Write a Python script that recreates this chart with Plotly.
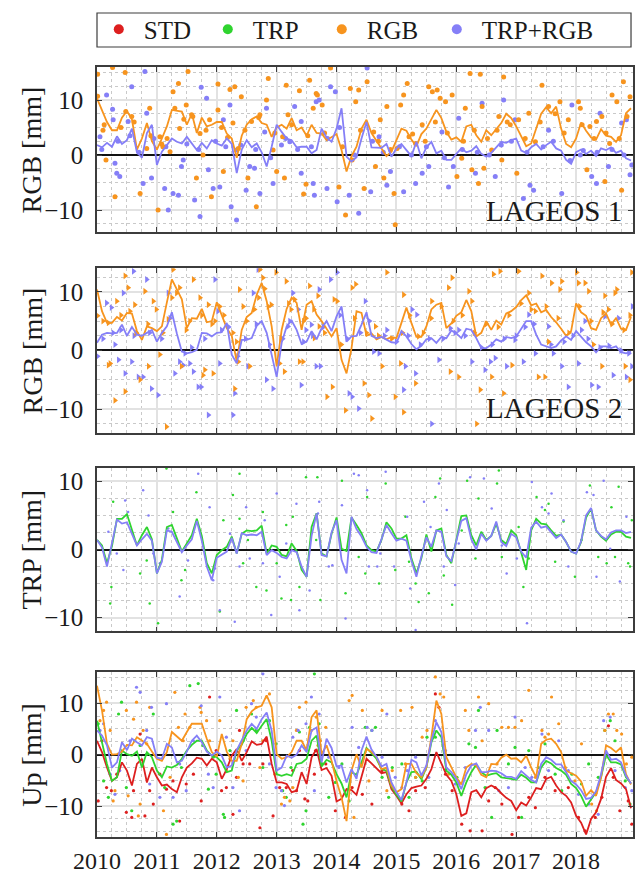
import numpy as np
import plotly.graph_objects as go

# ---------------- data ----------------
YEARS = [2010, 2011, 2012, 2013, 2014, 2015, 2016, 2017, 2018]
YEAR_LABELS = [str(y) for y in YEARS]
Y_TICKS = [-10, 0, 10]
Y_TICKTEXT = ["\u221210", "0", "10"]
SERIES = ["STD", "TRP", "RGB", "TRP+RGB"]

# monthly time base (decimal year) for the smoothed curves
MONTHS = 2010 + np.arange(108) / 12.0

# Panel 1 (LAGEOS 1, RGB) smoothed curves
p1_rgb_line = [10.3, 8, 6, 4.5, 4.5, 6.8, 8, 6.5, 1, 3, 5.8, 2.5,
               1, 3, 5.2, 8.2, 8, 7.9, 5.5, 7.5, 4, 6.8, 5.2, 5.5,
               6, 6, 3.9, 3, -0.5, 3.5, 5.5, 6.5, 7, 5.8, 5.5, 3.3,
               5, 5.5, 4.8, 6.7, 4.5, 5, 3.5, 5.5, 4, 3.9, 2.7, 3.2,
               3.8, 0.9, -3, -0.2, 1.5, 4.8, 6.4, 4, 2.7, 1.2, -0.2, 0.6,
               2.7, 4.8, 4.4, 2.8, 1.6, 3.8, 4.8, 6.4, 8.2, 6.7, 4.2, 2.8,
               3.2, 2.4, 5.2, 5.5, 3.6, 2.4, 4.5, 3.6, 4.8, 5.8, 7.5, 6.7,
               5.2, 3.5, 1.6, 2.1, 4.8, 7.5, 8.7, 7.6, 8.8, 4.8, 2, 1.4,
               3, 5.9, 4.4, 3.2, 2.8, 4.7, 3.5, 3.3, 2.4, 3.6, 7.6, 8.5]
p1_trgb_line = [1.8, 1.4, 2.2, 1.5, 3.4, 2, 2.7, 4.8, 0.5, -0.5, 4, 5.5,
                -1.8, 0.6, 1.8, 3, 2.4, 2.1, 3.3, 2.2, 0.9, 2.2, 1.2, 2.7,
                2.1, 1.7, 3, 2, -3.3, 1, 2.7, 1.4, 2.1, 0.5, -2.1, 1.5,
                5.5, 4.2, 3, 2.7, 1.4, 1.5, 1.5, 0.3, 0.9, 4.8, 3.2, 2.4,
                4.8, 8.5, -0.3, -1.2, -0.4, 3, 6, 1.4, 1.4, 1.3, 2, -0.3,
                1.2, 2, 0.9, -0.2, 2.4, -0.6, 1.4, 2.4, 0.3, 0.8, -0.9, -0.9,
                0.2, 1.2, 0.5, 0.8, 1.6, 0.2, -0.3, 0.4, 1.4, 2.4, 2.2, 2.7,
                3, 0.8, 0.4, 1.4, 2, 1, 1.8, 2.4, 1.2, 0.8, -0.9, -1.6,
                0.5, 1, 0.2, 0.8, -0.2, 1.2, 0.9, 1.4, 0.4, 0.8, -0.6, -1]

# Panel 2 (LAGEOS 2, RGB) smoothed curves
p2_rgb_line = [10.4, 6.7, 4.7, 4.7, 5.7, 5.1, 6.4, 6.3, 3.3, 1.8, 4.1, 3.8,
               3.3, 4.1, 8.2, 12.1, 10.4, 8.7, 3.8, 5.5, 5.4, 7.1, 4.8, 5,
               8.2, 5.9, 3.8, 2.5, -1.9, 3.5, 5.7, 6.4, 9.5, 11.5, 8.4, 4.1,
               -2.7, 3.5, 7.1, 9, 8.1, 3.5, 7.8, 8.4, 6.1, 5, 3.8, 2.4,
               3.8, -1.6, -3.9, 0.4, 6.7, 6.4, 2.5, 2.9, 1.9, 2.3, 1.9, 2.3,
               2.1, 4.7, 7.3, 4.7, 2.3, 2.3, 4.1, 7, 7.8, 8.1, 3.8, 4.6,
               5.9, 6.5, 8.6, 6.7, 2.4, 3, 5, 3.5, 5.1, 4.4, 6.3, 6.7,
               7.4, 8.6, 9.4, 7.7, 8, 6.5, 6.9, 5.7, 4.8, 3.7, 2.5, 3.3,
               8, 6.5, 5.9, 3.8, 3.5, 5.5, 6.3, 4.4, 5.5, 3.7, 3.5, 5.7]
p2_trgb_line = [1.3, 2.7, 3, 2.9, 3, 4.4, 2.5, 4, 2.7, 2.5, 3, 3.5,
                1.5, 3, 4.1, 6.5, 2.9, -0.2, -0.5, -0.3, 0.1, 3, 2.9, 2.4,
                3, 3.1, 4.7, -0.7, -2.2, 1.8, 1.8, 2.1, 4.2, 5, 3, -1,
                -4.5, 1.3, 4.1, 5.1, 3.5, 1.1, 1.5, 3.3, 1.9, 3.8, 5, 3.3,
                5.8, 7.5, 1.5, 2.4, 2.5, 4.4, 6.5, 2.5, 2.1, 2.3, 1.8, 1.4,
                1.3, 3.3, 2.4, 1.1, 0.2, 0.8, 1.9, 2.1, 1.3, 2.3, 2.1, 3.4,
                2.9, 2.1, 3.7, 3.5, 2.1, 0.4, 0.4, 1, 1.9, 1.5, 2.3, 2.1,
                2.4, 3.8, 5, 5, 2.7, 1, 0.7, 0.4, 0.7, 1.7, 2.4, 1.8,
                3.3, 2.4, 1.4, 0.7, -0.3, 0.7, 0.7, 0.4, 0.7, -0.3, -0.5, -0.2]

# Panel 3 (TRP) smoothed curves
p3_trp_line = [1.4, 0.6, -2, 0.5, 4.5, 4.5, 5.2, 2.8, 0.6, 2.1, 3.3, 1.5,
               -3.5, -1.5, 3.3, 3.6, 1.6, -0.3, 0.9, 2.1, 4.5, 2, -2, -3.5,
               -0.8, -0.1, 0.4, 1.9, -0.6, 2.3, 2.8, 2.7, 2.8, 3.5, -0.6, 0.6,
               0.4, -0.8, -1, 0.9, -0.2, -3, -4, 3.3, 5.3, -0.6, -1, 2.3,
               4.7, 0.1, -0.2, 4.7, 3.6, 2.4, 0.6, -0.1, -0.3, 1.4, 4, 3.1,
               1.6, 1.6, 2.1, -1.3, -3.5, -1.3, 2.2, -0.3, 2.8, 3.1, -0.8, -2,
               1.4, 4.9, 5, 2.1, 0.6, 2.6, 1.4, 2, 3.8, 1.4, 0.8, 2.8,
               2.1, -0.6, -3, 2.8, 4.5, 3.8, 3.7, 2.8, 2, 2.2, 1.1, -0.3,
               -0.6, 1.1, 4.7, 6, 2.8, 1.9, 1.3, 2.2, 2.6, 2.6, 1.9, 1.7]
p3_trgb_line = [1.4, 0.3, -2.5, 1, 4.4, 3.8, 4, 2.3, 0.6, 1.5, 2.3, 1.3,
                -3.5, -1.8, 2.8, 2.6, 1.1, -0.4, 0.6, 1.5, 4.2, 1.3, -2.5, -4.5,
                -1.2, -0.8, -0.3, 1.7, -0.6, 2.4, 2.1, 2.2, 2.1, 2.6, -0.8, -0.1,
                -0.5, -1.1, -1.3, -0.1, -0.4, -2.5, -4, 2, 5.3, -0.8, -1, 2.5,
                4.3, -1.5, -3.5, 4.8, 3, 1.9, 0.4, -0.4, -0.5, 1.5, 3.6, 2.4,
                1.3, 1.6, 1.3, -1.6, -4, -1, 1.8, 0.4, 2.8, 2.6, -1, -1.7,
                1.2, 4.2, 4.6, 1.5, 0, 2.3, 1.3, 2, 4.1, 1.1, 0.5, 2.3,
                1.8, -0.3, -1.2, 3.2, 4.1, 3.2, 3.4, 2.6, 1.7, 2.2, 1.1, -0.3,
                -0.6, 1.2, 5, 6.1, 2.8, 2, 1.5, 2.5, 2.8, 2.8, 2.4, 2.6]

# Panel 4 (Up) smoothed curves
p4_std_line = [2.7, 0.5, -2.5, -5.1, -4.4, -1.5, -3.1, -6, -1.8, -0.8, -5.4, -2.5,
               -4.4, -6, -5.8, -6.7, -7.3, -4.4, -2.5, -1.7, -0.6, -0.8, -2.1, -0.8,
               -1.5, -4.7, -2.8, -0.2, 1.1, -1.2, 0.5, 2.6, 1.9, 2.1, 3.5, -1.8,
               -5.4, -5.4, -5.7, -7.3, -7, -3.4, -5.7, -0.5, 1.1, -3, -2.6, -4.1,
               -9.1, -8.6, -6.7, -6.9, -7.8, -4.4, -0.8, -1.7, -2.6, -3.6, -3.4, -6.7,
               -8, -9.5, -7.7, -6.5, -6.2, -6, -4.7, -2.8, 0.5, -1.8, -3.9, -5.1,
               -7.7, -11.9, -11.4, -7.3, -6.9, -8.3, -6.5, -6, -6.5, -7.5, -8.4, -9,
               -10.8, -9.3, -9.9, -8.3, -6.5, -6.7, -4.7, -4.3, -6, -7.3, -8, -9.3,
               -11.9, -13.2, -15.5, -12.5, -11.2, -8.6, -4.3, -2.6, -4.9, -5.6, -6.7, -10.4]
p4_trp_line = [6.6, 2.1, -1.8, -5.1, -4.4, 0.8, 0.1, -0.2, 0.6, -2.5, 0.5, -0.5,
               -3.1, -4.4, -2.3, -2.5, -2, -0.8, 0.8, 1.9, 2.7, 2.7, 0.8, -0.2,
               -0.5, -1.5, -3.4, -3.1, 0.8, 1.9, 4, 5.2, 4.2, 5.6, 6.9, 2.7,
               -3.8, -4.1, -3.8, -4.1, -1.8, -1.6, -0.8, 2.7, 3.7, -2.3, -1, -1.5,
               -3.8, -5.6, -8.3, -3.4, -3.9, -1.5, 1.3, 0.3, -0.8, -2.8, -3.1, -6.2,
               -7.8, -9.1, -5.4, -3.4, -3.3, -4.8, -2.5, 2.4, 4.7, 3.4, -3.1, -3.9,
               -5.4, -8, -5.4, -3.4, -1.9, -3.4, -4.1, -3.8, -3.6, -4.4, -4.5, -4.7,
               -4.9, -3.9, -4.5, -5.4, -5.4, -2.5, -1.2, -1.7, -2.6, -3.1, -3.9, -5.7,
               -6.5, -8, -10.1, -8.6, -7.3, -4.4, 0, -1.5, -1.5, -1.9, -4.4, -5.6]
p4_rgb_line = [13.4, 8.6, 2.1, 0, 0.1, 0.6, 1.9, 1.8, 3.4, 2.7, 2.1, 0.6,
               -0.8, -1.2, 0.5, 4.4, 3.5, 2.7, 4.4, 6, 6, 6, 3.1, 0.5,
               -0.4, 4, 0.6, -1.2, -1.2, 2.1, 6.9, 8.4, 9.2, 9.5, 11.5, 9.2,
               0.1, -0.8, -0.5, 0.5, 2.7, 2.7, 0.8, 7.3, 8.6, 0.1, 1.8, -1.2,
               -5.1, -8.3, -12.9, -3.1, 0.1, -2.5, 1.1, 0.5, -0.4, -2.8, -2.5, -6,
               -7.3, -6.7, -1.8, -1.8, -3.6, -4.4, -2.5, 3.4, 10.5, 7.9, -0.5, -2.6,
               -4.4, -5.8, -2.5, -1.8, -2.1, -3.9, -4.4, -1.8, -1.9, -0.6, 0, -0.8,
               -0.7, -1.5, -0.2, -2.5, -4.4, 2.1, 2.9, 3.1, 2.1, 0.5, -3.1, -3.6,
               -4.1, -5.2, -8, -6.9, -8, -4.4, 1.8, 1.3, 0.5, 1.4, -3.8, -5.8]
p4_trgb_line = [4.7, 3.7, 1.8, -2.5, -1.5, 2.4, 0.9, 3.1, 2.4, 1.8, 3.4, 3.1,
                -0.6, -0.8, 2.1, 1.4, -1.5, -1.2, 0.6, 2.7, 3.7, 2.4, 0.6, -0.2,
                0.6, -0.2, -2.5, -2.1, 0.9, 2.9, 4.7, 6, 5, 6.9, 8.2, 4.7,
                -3.1, -2.5, -0.2, -0.6, 0, 1.8, 0.5, 4.7, 5.3, -1.5, 3.1, 1.3,
                -2.3, -2.1, -5.4, -2.8, -4.7, 0.8, 3.5, 1, -0.4, -2.3, -1.8, -5.4,
                -7.3, -8.8, -5.4, -1, -1.5, -4.1, -2.1, 2.7, 6.3, 4.4, -2.5, -3.4,
                -4.7, -6.7, -3.8, -2.1, -1.7, -3.4, -3.4, -3.1, -3.2, -3.6, -4.3, -4.3,
                -4.7, -3.2, -4.1, -4.9, -5.4, -1.8, -0.5, -1, -1.9, -1.9, -3.4, -5.1,
                -5.8, -6.9, -8.6, -8.4, -7.1, -3.8, 0.8, -1, -0.8, -1.5, -4.1, -5.6]

# Individual solutions (decimal year, mm)
p1_rgb_pts = [
    (2010.01, 14.7), (2010.01, 10.7), (2010.26, 15.9), (2010.15, -0.9), (2010.30, -7.6), (2010.47, 15.0), (2010.48, 7.9), (2010.72, -7.0), (2010.88, 8.5), (2010.83, 1.2),
    (2011.02, -10.0), (2011.17, 3.0), (2011.27, 11.5), (2011.36, 13.0), (2011.49, 9.1), (2011.52, 15.2), (2011.66, -4.2), (2011.77, 0.0), (2011.91, -7.6), (2012.02, 12.9),
    (2012.11, -3.0), (2012.22, 11.9), (2012.30, 12.4), (2012.41, 10.6), (2012.52, -4.2), (2012.66, -9.4), (2012.72, 7.3), (2012.83, 10.0), (2012.86, 13.9), (2013.00, -3.0),
    (2013.13, -4.2), (2013.16, 12.7), (2013.38, 11.7), (2013.45, -7.1), (2013.49, -5.3), (2013.55, 13.6), (2013.66, 11.2), (2010.58, 7.0), (2011.22, 0.6), (2011.38, 4.8),
    (2011.72, 3.9), (2011.88, 6.4), (2012.02, 8.2), (2012.36, 1.2), (2012.58, 6.1), (2012.94, 0.9), (2013.19, 7.3), (2013.61, 8.5), (2010.10, 4.5), (2011.10, 1.5),
    (2011.58, 7.3), (2011.05, 3.3), (2012.27, 5.8), (2013.10, 3.3),
    (2013.68, 10.9), (2013.90, 15.8), (2013.76, 9.1), (2014.23, 12.1), (2014.32, 9.7), (2014.37, 11.8), (2014.51, 13.3), (2014.15, -10.9), (2014.04, -5.8), (2014.46, -6.1),
    (2014.62, 4.2), (2014.73, 6.4), (2014.79, -4.2), (2014.84, 8.8), (2014.96, -7.0), (2014.98, -12.7), (2015.07, 9.1), (2015.12, 10.9), (2015.18, 13.0), (2015.32, 2.1),
    (2015.54, 12.4), (2015.68, 11.8), (2015.73, 10.3), (2015.93, 10.9), (2016.01, -3.9), (2016.15, 8.5), (2016.23, 14.8), (2016.40, 14.7), (2016.43, 8.8), (2016.79, 14.2),
    (2016.59, 0.9), (2016.46, -2.4), (2016.76, -0.9), (2017.01, -3.3), (2016.37, -5.2), (2016.90, 5.5), (2017.04, 6.4), (2017.21, 7.6), (2017.32, 2.4), (2017.43, 12.7),
    (2017.54, 8.8), (2017.73, 9.7), (2017.87, 6.4), (2018.04, 9.7), (2018.07, 8.5), (2018.23, 5.2), (2018.34, 6.1), (2018.43, 7.0), (2018.60, 10.9), (2018.68, 9.7),
    (2018.79, 13.3), (2018.90, 10.6), (2018.76, -6.4), (2018.48, -4.8), (2018.18, -2.7), (2018.56, 2.1), (2015.82, 9.7), (2015.60, 11.5), (2016.09, -0.6), (2016.26, -2.7),
    (2016.71, 7.0), (2015.21, 3.3), (2014.26, -0.9), (2014.65, -2.1), (2015.43, 5.5), (2015.01, 1.2),
    (2010.12, 5.5), (2010.40, 5.0), (2010.62, 6.0), (2010.90, 3.5), (2011.08, 2.0), (2011.30, 8.5), (2011.45, 6.5), (2011.60, 7.0), (2011.82, 4.5), (2012.08, 5.0),
    (2012.18, 3.2), (2012.47, 4.5), (2012.70, 6.8), (2012.97, 4.0), (2013.25, 5.5), (2013.52, 3.5), (2013.80, 4.0), (2014.10, 1.5), (2014.40, 4.5), (2014.70, 2.5),
    (2014.90, 1.0), (2015.27, 3.8), (2015.48, 2.5), (2015.65, 6.0), (2015.85, 4.0), (2016.12, 2.5), (2016.30, 4.5), (2016.52, 3.0), (2016.68, 4.5), (2016.85, 6.0),
    (2017.15, 3.0), (2017.40, 6.0), (2017.65, 7.5), (2017.80, 4.0), (2018.10, 5.5), (2018.30, 3.0), (2018.50, 4.0), (2018.72, 3.0), (2018.85, 7.0)]
p1_trgb_pts = [
    (2010.05, 3.3), (2010.16, 10.9), (2010.26, 8.3), (2010.30, -1.5), (2010.33, -3.3), (2010.38, -3.9), (2010.27, 6.4), (2010.52, 6.1), (2010.58, 12.4), (2010.77, -5.2),
    (2010.80, 15.2), (2010.83, 7.6), (2010.91, -4.2), (2011.13, -6.1), (2011.19, -10.0), (2011.27, -7.0), (2011.36, -7.3), (2011.41, -2.1), (2011.44, -0.9), (2011.63, -8.2),
    (2011.72, -11.2), (2011.74, 12.3), (2011.83, 10.3), (2011.86, -2.7), (2011.94, -6.1), (2012.05, -5.8), (2012.11, 6.4), (2012.24, -9.4), (2012.33, -11.8), (2012.33, 0.9),
    (2012.49, -6.4), (2012.55, -2.1), (2012.63, -2.4), (2012.72, -7.0), (2012.80, 4.2), (2012.83, 8.5), (2012.94, -5.2), (2013.08, 1.8), (2013.22, 2.4), (2013.30, 8.8),
    (2013.41, -3.3), (2013.61, -5.2), (2013.63, -7.3), (2013.66, 9.7), (2013.41, 6.1), (2012.22, 9.1),
    (2013.71, 10.0), (2013.90, 12.4), (2013.98, 11.5), (2014.51, 15.8), (2014.21, -7.3), (2014.01, -8.5), (2013.84, -6.1), (2014.37, -10.6), (2014.57, -6.7), (2014.71, 3.3),
    (2014.84, -5.5), (2014.90, -3.0), (2015.12, -6.7), (2015.32, -5.2), (2015.43, -3.3), (2015.54, -2.1), (2015.76, 4.2), (2015.87, -5.8), (2015.95, -2.1), (2016.04, 6.7),
    (2016.32, -3.3), (2016.43, 9.4), (2016.65, -3.9), (2016.79, 10.0), (2016.98, 6.4), (2017.12, -7.9), (2017.23, -5.5), (2017.29, -6.4), (2017.54, 4.5), (2017.76, -7.0),
    (2017.93, 9.1), (2018.07, 0.0), (2018.26, -3.9), (2018.34, -5.2), (2018.40, 7.6), (2018.54, -2.1), (2018.76, 5.8), (2018.84, 6.4), (2018.90, -3.6), (2018.93, -1.8),
    (2010.08, 1.0), (2010.35, 2.5), (2010.55, 3.5), (2010.70, 0.5), (2010.95, 3.0), (2011.15, 1.5), (2011.50, 2.0), (2011.70, 1.0), (2011.98, 2.5), (2012.15, 1.5),
    (2012.40, 1.8), (2012.65, 1.0), (2012.90, -0.5), (2013.15, 3.0), (2013.35, 1.0), (2013.58, 1.5), (2013.85, 3.0), (2014.05, 5.0), (2014.30, 0.0), (2014.60, 2.5),
    (2014.78, 0.5), (2015.05, 1.5), (2015.25, 0.0), (2015.50, 1.5), (2015.80, -0.5), (2016.10, 1.0), (2016.35, 0.5), (2016.55, 0.0), (2016.75, 1.8), (2016.92, 2.5),
    (2017.18, 0.5), (2017.45, 1.5), (2017.62, 2.5), (2017.90, -1.0), (2018.12, 0.8), (2018.35, 0.5), (2018.60, 1.0), (2018.80, 0.0)]

p2_rgb_pts = [
    (2010.01, 5.9), (2010.19, 4.7), (2010.19, -2.5), (2010.22, -2.2), (2010.30, -8.5), (2010.33, 8.4), (2010.47, 12.7), (2010.52, 10.7), (2010.47, -7.0), (2010.55, 6.7),
    (2010.63, 7.8), (2010.72, -5.0), (2010.80, 10.1), (2010.86, -2.7), (2010.94, 8.4), (2010.99, 7.0), (2011.05, -0.7), (2011.16, -13.0), (2011.19, 5.3), (2011.27, 13.8),
    (2011.33, 9.8), (2011.38, 10.7), (2011.41, -2.7), (2011.49, 3.5), (2011.61, 12.1), (2011.72, 9.0), (2011.77, -4.2), (2011.80, -3.3), (2011.86, 7.8), (2011.94, -3.9),
    (2011.97, 5.0), (2012.05, 7.5), (2012.27, 3.0), (2012.30, -6.5), (2012.36, -1.9), (2012.38, 10.4), (2012.44, 7.5), (2012.55, -2.7), (2012.63, 7.0), (2012.72, 13.8),
    (2012.77, 12.4), (2012.86, 7.5), (2012.91, 7.8), (2012.99, 13.3), (2013.05, -2.2), (2013.13, -3.6), (2013.16, 11.8), (2013.24, 7.0), (2013.30, 8.7), (2013.38, -1.9),
    (2013.44, -1.9), (2013.49, 5.5), (2013.55, 11.0), (2013.63, 2.1), (2013.69, 9.3),
    (2013.71, 4.1), (2013.84, -7.9), (2013.93, -6.2), (2013.96, 8.7), (2014.01, 8.4), (2014.15, -10.2), (2014.26, 10.7), (2014.32, 11.3), (2014.46, -5.6), (2014.54, -7.6),
    (2014.59, -11.6), (2014.65, 4.1), (2014.76, -2.7), (2014.84, 13.3), (2014.98, -7.9), (2015.07, -2.2), (2015.12, 9.5), (2015.12, -10.5), (2015.32, -5.6), (2015.37, 2.4),
    (2015.59, 8.4), (2015.87, 10.7), (2015.90, -3.6), (2015.93, 12.4), (2016.04, -4.5), (2016.21, 10.1), (2016.26, 8.4), (2016.34, -12.5), (2016.40, -6.7), (2016.59, -4.5),
    (2016.62, 13.0), (2016.73, 13.5), (2016.79, -7.3), (2016.93, -2.5), (2017.04, 13.5), (2017.21, 9.8), (2017.32, 6.7), (2017.37, -4.5), (2017.43, 12.7), (2017.48, -4.5),
    (2017.54, 1.5), (2017.59, 11.5), (2017.73, 10.4), (2017.76, 11.8), (2018.01, 13.3), (2018.04, 11.5), (2018.15, 11.5), (2018.21, 10.1), (2018.29, 1.0), (2018.48, 9.3),
    (2018.54, 7.0), (2018.65, 9.8), (2018.68, 10.4), (2018.82, -2.7), (2018.90, -5.0), (2018.93, 13.3), (2018.43, -2.7),
    (2010.10, 5.0), (2010.40, 6.0), (2010.65, 3.0), (2010.85, 4.5), (2011.10, 3.0), (2011.25, 9.0), (2011.55, 5.0), (2011.75, 6.0), (2011.92, 4.5), (2012.12, 6.0),
    (2012.33, 1.5), (2012.50, 5.0), (2012.70, 9.0), (2012.80, 10.5), (2013.07, 2.0), (2013.20, 8.0), (2013.45, 5.0), (2013.62, 7.0), (2013.80, 3.0), (2014.08, 1.0),
    (2014.30, 5.5), (2014.50, 3.0), (2014.70, 2.5), (2014.92, 2.0), (2015.10, 3.0), (2015.22, 6.0), (2015.45, 3.0), (2015.58, 5.5), (2015.75, 7.5), (2015.95, 5.0),
    (2016.10, 6.0), (2016.30, 3.0), (2016.50, 4.5), (2016.70, 4.0), (2016.88, 6.0), (2017.08, 8.0), (2017.25, 7.0), (2017.50, 7.5), (2017.70, 5.5), (2017.88, 3.0),
    (2018.06, 7.5), (2018.25, 5.0), (2018.45, 6.5), (2018.60, 4.5), (2018.80, 3.5), (2018.90, 6.0)]
p2_trgb_pts = [
    (2010.01, -1.0), (2010.16, 8.1), (2010.24, 7.3), (2010.27, 3.0), (2010.30, 1.0), (2010.36, -1.6), (2010.44, 9.8), (2010.47, -3.9), (2010.61, 13.5), (2010.58, -1.9),
    (2010.69, -4.5), (2010.77, -4.5), (2010.83, 12.1), (2010.91, -6.5), (2011.02, -7.6), (2011.19, 9.8), (2011.30, -3.9), (2011.38, -1.9), (2011.44, -2.5), (2011.55, -2.2),
    (2011.61, -3.6), (2011.69, -6.2), (2011.74, -6.2), (2011.86, -11.0), (2011.97, 12.1), (2012.02, 6.7), (2012.05, -2.2), (2012.27, -11.0), (2012.30, -7.3), (2012.52, -2.7),
    (2012.61, 9.8), (2012.69, 13.8), (2012.83, -5.0), (2012.94, -6.5), (2013.19, 4.1), (2013.27, 9.8), (2013.36, 7.0), (2013.41, -5.9), (2013.49, 3.5), (2013.58, 4.4),
    (2013.66, -2.7),
    (2013.71, 10.4), (2013.73, -2.7), (2013.90, 12.1), (2014.01, 13.3), (2014.21, -7.3), (2014.26, -7.9), (2014.37, -9.9), (2014.48, 8.4), (2014.62, -0.2), (2014.71, -0.5),
    (2014.84, 3.5), (2015.12, -6.7), (2015.15, -2.7), (2015.26, 7.0), (2015.32, -3.9), (2015.34, 6.1), (2015.59, -12.5), (2015.71, -1.6), (2015.90, 3.8), (2016.04, 3.5),
    (2016.26, -1.9), (2016.48, -3.3), (2016.57, -1.9), (2016.65, -1.3), (2016.84, -2.7), (2016.98, 1.8), (2017.12, -1.9), (2017.21, 6.1), (2017.32, -0.5), (2017.54, 4.1),
    (2017.62, -0.5), (2017.76, -2.7), (2017.87, -6.2), (2018.04, -2.2), (2018.09, 3.5), (2018.15, 5.0), (2018.26, -5.9), (2018.37, -6.2), (2018.48, 5.8), (2018.62, -4.2),
    (2018.71, 5.5), (2018.84, -4.5), (2018.93, -2.7), (2018.94, 7.5),
    (2010.10, 2.0), (2010.40, 3.5), (2010.62, 2.5), (2010.88, 3.0), (2011.08, 2.0), (2011.22, 5.5), (2011.47, -0.5), (2011.58, 0.5), (2011.80, 2.0), (2012.08, 3.5),
    (2012.20, 4.0), (2012.35, -1.0), (2012.48, 2.0), (2012.66, 4.5), (2012.88, 1.0), (2013.10, 2.0), (2013.22, 5.0), (2013.45, 1.5), (2013.60, 2.5), (2013.78, 4.0),
    (2014.06, 6.0), (2014.18, 2.0), (2014.40, 3.0), (2014.55, 5.0), (2014.80, 2.5), (2015.00, 1.5), (2015.20, 2.5), (2015.40, 1.0), (2015.55, 2.0), (2015.78, 2.0),
    (2015.98, 3.0), (2016.15, 2.5), (2016.42, 0.5), (2016.60, 1.0), (2016.80, 2.0), (2017.00, 2.5), (2017.15, 4.0), (2017.30, 4.5), (2017.58, 1.0), (2017.80, 1.5),
    (2017.95, 2.5), (2018.20, 2.0), (2018.40, 0.5), (2018.55, 0.8), (2018.75, 0.0), (2018.88, -0.5)]

p3_trp_pts = [
    (2010.24, -5.5), (2010.22, -7.9), (2010.27, 7.0), (2010.58, 2.6), (2010.72, -3.5), (2010.83, -1.6), (2010.88, -7.9), (2011.02, -10.8), (2011.16, 11.9), (2011.27, 5.5),
    (2011.41, -4.5), (2011.47, -3.0), (2011.66, 8.4), (2012.05, -9.1), (2012.11, 4.3), (2012.27, 8.0), (2012.38, 11.1), (2012.38, 4.5), (2012.44, -2.0), (2012.52, 1.4),
    (2012.66, -5.5), (2012.77, 5.5), (2012.83, -6.0), (2013.00, -2.0), (2013.08, -7.2), (2013.16, 3.6), (2013.24, -7.4), (2013.27, 4.8), (2013.38, -5.5), (2013.49, 10.6),
    (2013.66, 1.4),
    (2013.68, 10.6), (2013.73, -7.4), (2014.09, 10.1), (2014.15, -6.4), (2014.37, -1.1), (2014.48, -3.5), (2014.51, 7.7), (2014.71, -5.0), (2014.82, 9.7), (2014.98, -3.0),
    (2015.15, 4.8), (2015.21, -1.8), (2015.32, -5.0), (2015.37, -7.7), (2015.54, -6.4), (2015.65, 7.7), (2015.73, 10.4), (2015.79, -3.8), (2015.93, -8.1), (2016.09, 2.8),
    (2016.18, 10.1), (2016.32, -1.3), (2016.37, 7.5), (2016.68, 9.7), (2016.71, 11.6), (2016.76, -1.1), (2017.04, 3.3), (2017.12, -5.5), (2017.21, -1.3), (2017.34, 7.7),
    (2017.48, 5.8), (2017.54, 6.7), (2017.65, -1.8), (2017.79, 4.1), (2017.98, -4.0), (2018.09, 1.4), (2018.23, 9.4), (2018.37, -1.1), (2018.51, -2.0), (2018.65, -1.1),
    (2018.71, 9.2), (2018.87, -2.0), (2018.90, -2.5), (2018.93, 4.3), (2018.59, 6.2)]
p3_trgb_pts = [
    (2010.19, 2.6), (2010.33, -0.6), (2010.44, -3.0), (2010.47, 7.2), (2010.52, 5.5), (2010.77, 8.7), (2010.86, 5.0), (2010.94, -0.6), (2011.05, -2.0), (2011.19, 3.1),
    (2011.38, -6.9), (2011.52, -1.6), (2011.69, 11.1), (2011.88, 6.2), (2011.94, -4.5), (2011.97, -2.8), (2012.05, -8.9), (2012.22, 2.3), (2012.30, -10.6), (2012.38, -2.5),
    (2012.49, 6.2), (2012.55, -1.3), (2012.77, -2.0), (2012.80, 4.3), (2012.91, -9.6), (2013.00, 8.2), (2013.05, -4.0), (2013.16, 0.9), (2013.33, 6.7), (2013.38, -8.9),
    (2013.55, -6.0), (2013.69, 5.3),
    (2013.71, 7.0), (2013.87, -2.5), (2013.93, -2.3), (2014.09, 6.5), (2014.15, -10.1), (2014.29, 11.1), (2014.37, 10.9), (2014.51, 8.7), (2014.54, -2.5), (2014.68, -2.5),
    (2014.73, -0.6), (2014.82, 11.4), (2014.96, -2.5), (2015.18, 4.8), (2015.23, -5.7), (2015.32, -11.8), (2015.46, 7.0), (2015.57, 3.3), (2015.71, 9.7), (2015.79, -2.5),
    (2015.84, 5.8), (2015.98, -5.2), (2016.04, 0.9), (2016.23, 10.6), (2016.46, 10.4), (2016.59, 6.0), (2016.76, 0.6), (2016.84, -3.5), (2017.01, -1.3), (2017.18, -10.8),
    (2017.26, 9.9), (2017.43, 6.2), (2017.54, 5.3), (2017.59, 8.2), (2017.79, 4.3), (2017.87, -2.5), (2018.18, 8.4), (2018.29, 8.0), (2018.34, -4.0), (2018.46, 10.1),
    (2018.57, 0.1), (2018.73, -4.7), (2018.84, 4.8)]

p4_std_pts = [
    (2010.02, -9.0), (2010.08, 2.7), (2010.16, -6.4), (2010.24, -7.0), (2010.33, -3.8), (2010.49, -11.2), (2010.58, -12.2), (2010.61, -7.0), (2010.72, 4.0), (2010.80, -11.9),
    (2010.88, -7.0), (2010.94, -9.6), (2011.05, -3.8), (2011.16, -6.7), (2011.27, -5.1), (2011.38, -12.9), (2011.49, -5.7), (2011.61, -3.8), (2011.74, -9.0), (2011.88, 11.2),
    (2011.99, 0.8), (2012.08, -7.0), (2012.16, -6.4), (2012.27, -11.6), (2012.33, -4.4), (2012.38, 4.7), (2012.44, -1.8), (2012.55, -1.8), (2012.72, -14.2), (2012.77, -1.8),
    (2012.83, 2.7), (2012.94, -11.9), (2013.05, -6.4), (2013.16, -6.4), (2013.27, -3.1), (2013.33, -7.0), (2013.38, 0.8), (2013.47, -8.6), (2013.52, -9.0), (2013.63, -3.8),
    (2013.65, 0.8), (2013.82, -1.8), (2013.98, -10.9), (2014.15, -12.2), (2014.26, -6.4), (2014.43, -7.7), (2014.59, -9.6), (2014.76, -3.1), (2014.93, -6.4), (2015.09, -9.6),
    (2015.21, -10.9), (2015.32, -7.0), (2015.48, -6.4), (2015.65, 11.8), (2015.71, 9.2), (2015.82, -3.8), (2015.93, -7.0), (2016.09, -13.5), (2016.23, -14.8), (2016.43, -14.8),
    (2016.54, -9.0), (2016.65, -6.4), (2016.76, -9.6), (2016.93, -15.5), (2017.04, -12.2), (2017.21, -8.3), (2017.32, -10.3), (2017.48, -4.4), (2017.65, -7.0), (2017.87, -6.4),
    (2018.04, -12.2), (2018.15, -14.8), (2018.32, -12.2), (2018.43, -8.3), (2018.54, 5.6), (2018.62, -4.4), (2018.73, -10.9), (2018.87, -9.0), (2018.93, -13.5)]
p4_trp_pts = [
    (2010.02, 6.0), (2010.11, -5.1), (2010.19, -8.3), (2010.36, 7.9), (2010.41, 10.2), (2010.49, -6.4), (2010.58, -10.9), (2010.63, 2.7), (2010.72, 1.8), (2010.83, 0.1),
    (2010.94, 7.9), (2011.13, -6.4), (2011.27, -13.5), (2011.33, -12.9), (2011.41, -2.5), (2011.55, 13.4), (2011.69, 13.8), (2011.77, 1.8), (2011.86, -6.7), (2011.94, -0.5),
    (2011.99, -3.8), (2012.11, -11.6), (2012.13, -12.2), (2012.22, 0.8), (2012.33, 8.6), (2012.44, 2.7), (2012.58, 7.9), (2012.66, 4.7), (2012.77, -2.5), (2012.88, 6.6),
    (2012.99, 2.1), (2013.10, -7.0), (2013.16, -8.3), (2013.24, -2.5), (2013.38, 4.4), (2013.44, -13.5), (2013.49, -10.9), (2013.55, 5.3), (2013.63, 15.7),
    (2013.71, 6.0), (2013.76, -1.8), (2013.87, -8.3), (2013.98, -5.4), (2014.09, -1.8), (2014.21, -9.0), (2014.48, 5.3), (2014.59, 4.7), (2014.65, 5.3), (2014.76, -4.4),
    (2014.87, -8.3), (2014.93, -2.5), (2015.09, -1.8), (2015.21, -8.3), (2015.32, -4.4), (2015.43, -5.1), (2015.51, 3.4), (2015.65, 3.4), (2015.82, -3.1), (2016.01, -4.4),
    (2016.21, 2.1), (2016.32, 1.4), (2016.37, 8.6), (2016.48, -6.4), (2016.59, -12.2), (2016.68, 4.7), (2016.87, -1.8), (2016.98, 1.4), (2017.09, -12.2), (2017.21, 0.8),
    (2017.37, -2.5), (2017.48, 2.1), (2017.65, -3.8), (2017.76, -7.0), (2017.93, -3.8), (2018.09, -5.7), (2018.21, -1.8), (2018.37, -4.4), (2018.48, 4.7), (2018.57, 6.6),
    (2018.65, 2.7), (2018.82, -5.1), (2018.90, -9.6)]
p4_rgb_pts = [
    (2010.05, 6.6), (2010.11, 8.6), (2010.16, 10.2), (2010.22, 4.7), (2010.27, -9.0), (2010.30, -7.0), (2010.49, 8.6), (2010.52, -8.0), (2010.61, 6.9), (2010.66, 10.2),
    (2010.69, -11.9), (2010.72, -9.6), (2010.77, 4.7), (2010.83, 2.1), (2010.88, 9.2), (2011.11, -10.9), (2011.16, -15.5), (2011.22, -4.4), (2011.30, 12.1), (2011.36, 5.3),
    (2011.44, 2.7), (2011.47, 7.9), (2011.55, 5.3), (2011.72, 9.2), (2011.74, 8.2), (2011.83, 6.6), (2011.88, 2.7), (2012.05, 6.6), (2012.16, -3.1), (2012.22, -0.8),
    (2012.27, 2.7), (2012.36, -4.4), (2012.44, -5.1), (2012.49, 9.2), (2012.61, 10.5), (2012.66, 9.2), (2012.72, -2.5), (2012.77, 2.7), (2012.83, 11.2), (2012.88, 11.8),
    (2012.97, -3.8), (2013.08, -9.6), (2013.13, -8.3), (2013.22, -9.0), (2013.27, -6.4), (2013.33, 4.7), (2013.38, 9.2), (2013.49, 10.2), (2013.58, 4.7), (2013.66, 7.3),
    (2013.69, 1.8), (2013.73, 2.7), (2013.82, 5.3), (2014.21, 10.5), (2014.26, 11.5), (2014.29, -12.2), (2014.43, 8.6), (2014.54, -5.1), (2014.76, 8.6), (2014.84, -7.0),
    (2014.93, -3.1), (2015.07, 8.6), (2015.15, -1.8), (2015.26, 9.2), (2015.32, -4.4), (2015.43, 3.4), (2015.51, 4.7), (2015.65, 15.1), (2015.73, 11.8), (2015.79, 11.2),
    (2015.87, -3.8), (2016.04, -5.7), (2016.15, 8.6), (2016.21, 4.7), (2016.37, 11.2), (2016.43, 2.7), (2016.54, 9.9), (2016.68, -1.8), (2016.76, 5.3), (2016.87, 5.3),
    (2016.98, 5.3), (2017.09, 6.6), (2017.21, 12.5), (2017.32, -4.4), (2017.43, 4.7), (2017.48, 3.4), (2017.54, 4.0), (2017.59, 11.2), (2017.71, 6.0), (2017.82, -2.5),
    (2017.98, -5.1), (2018.09, 2.1), (2018.26, -9.6), (2018.34, -10.9), (2018.48, 4.7), (2018.54, 7.9), (2018.62, 7.9), (2018.68, 4.7), (2018.76, 4.0), (2018.84, -1.8),
    (2018.93, -0.5)]
p4_trgb_pts = [
    (2010.05, 4.7), (2010.11, 6.0), (2010.22, -3.8), (2010.30, -7.7), (2010.38, -3.1), (2010.55, 2.7), (2010.66, 13.1), (2010.72, 12.1), (2010.83, 4.7), (2010.88, -5.7),
    (2010.91, 9.2), (2011.05, -8.3), (2011.16, 9.9), (2011.27, -8.3), (2011.38, -1.8), (2011.49, -7.0), (2011.61, 2.7), (2011.74, 9.5), (2011.86, -3.8), (2011.94, -6.4),
    (2012.05, 11.2), (2012.16, 3.4), (2012.27, -6.4), (2012.38, -10.9), (2012.49, 0.8), (2012.58, 9.9), (2012.66, 7.3), (2012.77, 15.7), (2012.88, -1.8), (2012.99, -6.4),
    (2013.08, -7.0), (2013.13, -9.9), (2013.27, 3.4), (2013.36, 4.7), (2013.49, 6.0), (2013.58, 11.2), (2013.63, -7.0),
    (2013.71, 7.9), (2013.87, -0.5), (2014.04, -2.5), (2014.26, 5.3), (2014.37, 1.4), (2014.51, 5.3), (2014.59, 4.7), (2014.76, -0.5), (2014.84, 7.9), (2014.98, -4.4),
    (2015.09, -6.4), (2015.18, -3.1), (2015.32, -0.5), (2015.43, -3.8), (2015.54, -4.4), (2015.65, 6.6), (2015.82, 0.8), (2015.98, -5.7), (2016.15, -2.5), (2016.32, 4.7),
    (2016.40, 9.2), (2016.54, 4.7), (2016.71, -7.0), (2016.87, -6.4), (2016.98, 7.3), (2017.15, -2.5), (2017.26, -4.4), (2017.43, 4.0), (2017.54, -3.1), (2017.71, 2.7),
    (2017.87, -3.1), (2018.04, -7.7), (2018.21, -9.6), (2018.37, -11.6), (2018.46, 6.6), (2018.57, 7.3), (2018.65, -3.1), (2018.82, -6.4), (2018.93, -7.0)]

# ---------------- styling ----------------
C_STD = "#dd1f1f"
C_TRP = "#2fd42f"
C_RGB = "#f7941e"
C_TRGB = "#857ff7"
FRAME = "#3c3c3c"
GRID = "#e2e2e2"
MINOR = "#c9c9c9"
FONT = "Liberation Serif, Times New Roman, DejaVu Serif, serif"
TXT = "#1a1a1a"

fig = go.Figure()


def pts(xy):
    xs, ys = zip(*xy)
    return list(xs), list(ys)


def ax_names(k):
    return ("x" if k == 1 else f"x{k}"), ("y" if k == 1 else f"y{k}")


def add_points(xy, color, symbol, size, k):
    xs, ys = pts(xy)
    xa, ya = ax_names(k)
    fig.add_trace(go.Scatter(x=xs, y=ys, mode="markers",
                             marker=dict(color=color, size=size, symbol=symbol, line=dict(width=0)),
                             showlegend=False, hoverinfo="skip", xaxis=xa, yaxis=ya))


def add_line(vals, color, k):
    xa, ya = ax_names(k)
    fig.add_trace(go.Scatter(x=MONTHS, y=vals, mode="lines",
                             line=dict(color=color, width=1.8),
                             showlegend=False, hoverinfo="skip", xaxis=xa, yaxis=ya))


# points
add_points(p1_trgb_pts, C_TRGB, "circle", 5, 1)
add_points(p1_rgb_pts, C_RGB, "circle", 5, 1)
add_points(p2_trgb_pts, C_TRGB, "triangle-right", 6, 2)
add_points(p2_rgb_pts, C_RGB, "triangle-right", 6, 2)
add_points(p3_trp_pts, C_TRP, "circle", 2.5, 3)
add_points(p3_trgb_pts, C_TRGB, "circle", 2.5, 3)
add_points(p4_std_pts, C_STD, "circle", 3.2, 4)
add_points(p4_trp_pts, C_TRP, "circle", 3.2, 4)
add_points(p4_rgb_pts, C_RGB, "circle", 3.2, 4)
add_points(p4_trgb_pts, C_TRGB, "circle", 3.2, 4)

# lines
add_line(p1_rgb_line, C_RGB, 1)
add_line(p1_trgb_line, C_TRGB, 1)
add_line(p2_rgb_line, C_RGB, 2)
add_line(p2_trgb_line, C_TRGB, 2)
add_line(p3_trp_line, C_TRP, 3)
add_line(p3_trgb_line, C_TRGB, 3)
add_line(p4_std_line, C_STD, 4)
add_line(p4_trp_line, C_TRP, 4)
add_line(p4_rgb_line, C_RGB, 4)
add_line(p4_trgb_line, C_TRGB, 4)

# legend entries
LEGEND_W = [54, 59, 60, 140]
for name, col, lw in zip(SERIES, [C_STD, C_TRP, C_RGB, C_TRGB], LEGEND_W):
    fig.add_trace(go.Scatter(x=[None], y=[None], mode="markers", name=name,
                             marker=dict(color=col, size=10), legendwidth=lw,
                             xaxis="x", yaxis="y"))

# ---------------- axes ----------------
DOMAINS = [[0.7857, 1.0], [0.5251, 0.7386], [0.2671, 0.4796], [0.0, 0.2139]]
RANGES = [[-14, 16], [-14, 14], [-12, 12], [-16, 16]]
TITLES = ["RGB [mm]", "RGB [mm]", "TRP [mm]", "Up [mm]"]

layout = dict(
    width=636, height=875,
    margin=dict(l=97, r=3, t=67, b=38, autoexpand=False),
    paper_bgcolor="white", plot_bgcolor="white",
    font=dict(family=FONT, color=TXT),
    showlegend=True,
    legend=dict(orientation="h", x=-0.006, xanchor="left", y=1.0487, yanchor="middle",
                borderwidth=0, bgcolor="rgba(0,0,0,0)",
                font=dict(family=FONT, size=25, color=TXT),
                itemwidth=40, itemsizing="trace", traceorder="normal"),
    shapes=[dict(type="rect", xref="paper", yref="paper", x0=0, x1=0.9963, y0=1.026, y1=1.0701,
                 line=dict(color=FRAME, width=1.2), fillcolor="rgba(0,0,0,0)", layer="above")],
)

annotations = []
for i in range(4):
    k = i + 1
    xa = dict(domain=[0, 1], range=[2010, 2018.95], anchor="y" if k == 1 else f"y{k}",
              tickmode="array", tickvals=YEARS, ticktext=YEAR_LABELS,
              showticklabels=(k == 4), ticks="inside", ticklen=5, tickwidth=1.2, tickcolor=FRAME,
              showline=True, linecolor=FRAME, linewidth=1.5, mirror="ticks",
              showgrid=True, gridcolor=GRID, gridwidth=1.5, zeroline=False,
              minor=dict(tickmode="linear", tick0=2010, dtick=0.25, showgrid=True,
                         gridcolor=MINOR, griddash="dot", gridwidth=1, ticks=""),
              tickfont=dict(family=FONT, size=24, color=TXT),
              ticklabelstandoff=1, automargin=False)
    ya = dict(domain=DOMAINS[i], range=RANGES[i], anchor="x" if k == 1 else f"x{k}",
              tickmode="array", tickvals=Y_TICKS, ticktext=Y_TICKTEXT,
              ticks="inside", ticklen=5, tickwidth=1.2, tickcolor=FRAME,
              showline=True, linecolor=FRAME, linewidth=1.5, mirror="ticks",
              showgrid=True, gridcolor=GRID, gridwidth=1.5,
              zeroline=True, zerolinecolor="#111111", zerolinewidth=1.5,
              minor=dict(tickmode="linear", tick0=0, dtick=2.5, showgrid=True,
                         gridcolor=MINOR, griddash="dot", gridwidth=1, ticks=""),
              tickfont=dict(family=FONT, size=25, color=TXT),
              ticklabelstandoff=7, automargin=False)
    layout["xaxis" if k == 1 else f"xaxis{k}"] = xa
    layout["yaxis" if k == 1 else f"yaxis{k}"] = ya
    annotations.append(dict(text=TITLES[i], xref="paper", yref="paper",
                            x=-0.1213, y=(DOMAINS[i][0] + DOMAINS[i][1]) / 2,
                            xanchor="center", yanchor="middle", textangle=-90, showarrow=False,
                            font=dict(family=FONT, size=28, color=TXT)))

annotations += [
    dict(text="LAGEOS 1", xref="x domain", yref="y", x=0.983, y=-10.1, xanchor="right", yanchor="middle",
         showarrow=False, font=dict(family=FONT, size=29, color=TXT)),
    dict(text="LAGEOS 2", xref="x2 domain", yref="y2", x=0.983, y=-9.8, xanchor="right", yanchor="middle",
         showarrow=False, font=dict(family=FONT, size=29, color=TXT)),
]
layout["annotations"] = annotations

fig.update_layout(**layout)
fig.write_html("out.html")
